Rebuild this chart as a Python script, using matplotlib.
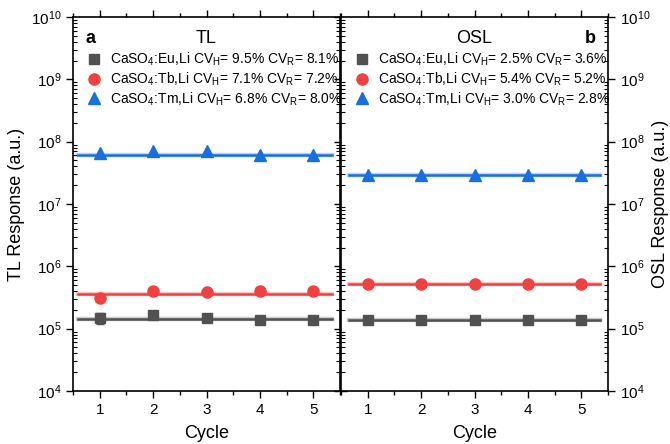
import matplotlib.pyplot as plt
import numpy as np

plt.rcParams["font.family"] = ["Liberation Sans", "DejaVu Sans"]
plt.rcParams["mathtext.fontset"] = "custom"
plt.rcParams["mathtext.rm"] = "Liberation Sans"
plt.rcParams["mathtext.it"] = "Liberation Sans:italic"
plt.rcParams["mathtext.bf"] = "Liberation Sans:bold"

# Datos
cycles = [1, 2, 3, 4, 5]

tl_eu = [1.51e5, 1.63e5, 1.51e5, 1.40e5, 1.40e5]
tl_eu_err = [3.0e4, 0, 0, 0, 0]
tl_tb = [3.06e5, 4.07e5, 3.92e5, 4.07e5, 4.07e5]
tl_tm = [6.46e7, 7.05e7, 6.96e7, 6.07e7, 6.07e7]
tl_fit = [1.43e5, 3.64e5, 6.2e7]

osl_eu = [1.40e5, 1.40e5, 1.40e5, 1.40e5, 1.40e5]
osl_tb = [5.17e5, 5.17e5, 5.17e5, 5.17e5, 5.17e5]
osl_tm = [2.87e7, 2.87e7, 2.87e7, 2.87e7, 2.87e7]
osl_fit = [1.40e5, 5.17e5, 2.87e7]

tl_labels = [
    r"CaSO$_4$:Eu,Li CV$_\mathrm{H}$= 9.5% CV$_\mathrm{R}$= 8.1%",
    r"CaSO$_4$:Tb,Li CV$_\mathrm{H}$= 7.1% CV$_\mathrm{R}$= 7.2%",
    r"CaSO$_4$:Tm,Li CV$_\mathrm{H}$= 6.8% CV$_\mathrm{R}$= 8.0%",
]
osl_labels = [
    r"CaSO$_4$:Eu,Li CV$_\mathrm{H}$= 2.5% CV$_\mathrm{R}$= 3.6%",
    r"CaSO$_4$:Tb,Li CV$_\mathrm{H}$= 5.4% CV$_\mathrm{R}$= 5.2%",
    r"CaSO$_4$:Tm,Li CV$_\mathrm{H}$= 3.0% CV$_\mathrm{R}$= 2.8%",
]

colors = ["#515151", "#F14040", "#1A6FDF"]
markers = ["s", "o", "^"]
msizes = [7.5, 8, 8.5]

fig = plt.figure(figsize=(6.7, 4.44), dpi=100)
ax1 = fig.add_axes([73 / 670, 53 / 444, 267 / 670, 374 / 444])
ax2 = fig.add_axes([341 / 670, 53 / 444, 267 / 670, 374 / 444])


def draw_panel(ax, series, errs, fits, labels, fit_x):
    for i, (vals, fit, lab) in enumerate(zip(series, fits, labels)):
        ax.plot(fit_x, [fit, fit], color=colors[i], lw=3.2, alpha=0.3, zorder=1)
        ax.plot(fit_x, [fit, fit], color=colors[i], lw=1.8, zorder=2)
        if errs[i] is not None:
            ax.errorbar(cycles, vals, yerr=errs[i], fmt="none", ecolor=colors[i],
                        elinewidth=1, capsize=3, zorder=2)
        ax.plot(cycles, vals, linestyle="none", marker=markers[i], ms=msizes[i],
                color=colors[i], label=lab, zorder=3)
    ax.set_yscale("log")
    ax.set_ylim(1e4, 1e10)
    ax.set_xlim(0.5, 5.5)
    ax.set_xticks(cycles)
    ax.set_xticks(np.arange(0.5, 6.0, 1.0), minor=True)
    ax.set_yticks([1e4, 1e5, 1e6, 1e7, 1e8, 1e9, 1e10])
    ax.set_xlabel("Cycle", fontsize=13, labelpad=6)
    ax.tick_params(axis="x", which="major", direction="out", length=5, width=1,
                   labelsize=11, top=True)
    ax.tick_params(axis="x", which="minor", direction="out", length=3, width=1, top=True)
    for s in ax.spines.values():
        s.set_linewidth(1.2)
    leg = ax.legend(loc="upper left", bbox_to_anchor=(0.0, 0.94), frameon=False,
                    fontsize=10, handletextpad=0.5, labelspacing=0.18,
                    handlelength=1.4, borderaxespad=0.4)
    return leg


draw_panel(ax1, [tl_eu, tl_tb, tl_tm], [tl_eu_err, None, None], tl_fit, tl_labels, [0.6, 5.35])
draw_panel(ax2, [osl_eu, osl_tb, osl_tm], [None, None, None], osl_fit, osl_labels, [0.65, 5.35])

# Ticks en Y
ax1.tick_params(axis="y", which="major", direction="out", length=5, width=1,
                labelsize=11, left=True, right=True)
ax1.tick_params(axis="y", which="minor", direction="in", length=3, width=0.8,
                left=True, right=True)
ax1.set_ylabel("TL Response (a.u.)", fontsize=13, labelpad=4)

ax2.yaxis.tick_right()
ax2.yaxis.set_label_position("right")
ax2.tick_params(axis="y", which="major", direction="out", length=5, width=1,
                labelsize=11, left=True, right=True, labelleft=False, labelright=True)
ax2.tick_params(axis="y", which="minor", direction="in", length=3, width=0.8,
                left=True, right=True)
ax2.set_ylabel("OSL Response (a.u.)", fontsize=13, labelpad=1)

ax1.text(0.5, 0.965, "TL", transform=ax1.transAxes, ha="center", va="top", fontsize=13)
ax1.text(0.045, 0.965, "a", transform=ax1.transAxes, ha="left", va="top", fontsize=13,
         fontweight="bold")
ax2.text(0.5, 0.965, "OSL", transform=ax2.transAxes, ha="center", va="top", fontsize=13)
ax2.text(0.955, 0.965, "b", transform=ax2.transAxes, ha="right", va="top", fontsize=13,
         fontweight="bold")

fig.savefig("out.png", dpi=100)
